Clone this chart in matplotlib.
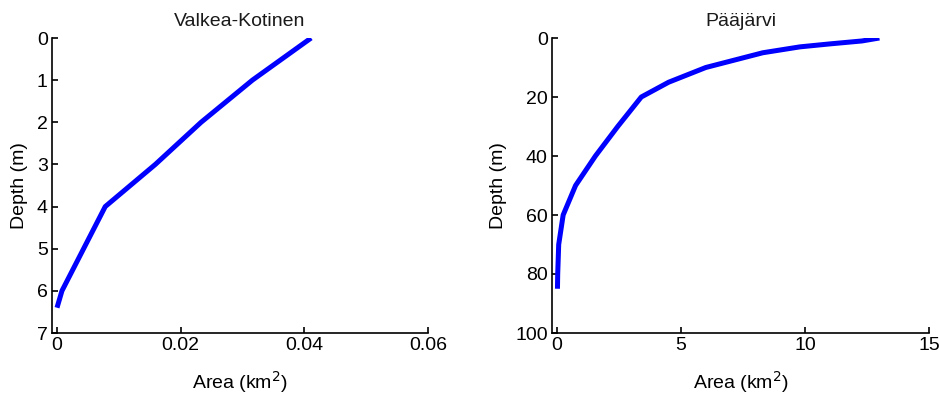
import matplotlib
matplotlib.use("Agg")
import matplotlib.pyplot as plt

plt.rcParams['font.family'] = ['Liberation Sans', 'DejaVu Sans']

vk_depth = [0, 1, 2, 3, 4, 5, 6, 6.4]
vk_area = [0.0411, 0.0316, 0.0233, 0.0159, 0.0078, 0.0043, 0.0008, 0.0]

pj_depth = [0, 1, 2, 3, 5, 10, 15, 20, 30, 40, 50, 60, 70, 80, 85]
pj_area = [13.0, 12.3, 11.0, 9.8, 8.3, 6.0, 4.5, 3.4, 2.45, 1.55, 0.75, 0.25, 0.07, 0.03, 0.02]

vk_xticks = [0, 0.02, 0.04, 0.06]
vk_xticklabels = ['0', '0.02', '0.04', '0.06']
vk_yticks = [0, 1, 2, 3, 4, 5, 6, 7]
pj_xticks = [0, 5, 10, 15]
pj_yticks = [0, 20, 40, 60, 80, 100]

fig = plt.figure(figsize=(9.39, 3.97), dpi=100)
ax1 = fig.add_axes([52/939, 64/397, 376/939, 295/397])
ax2 = fig.add_axes([552/939, 64/397, 377/939, 295/397])

def style(ax):
    for s in ['top', 'right']:
        ax.spines[s].set_visible(False)
    for s in ['left', 'bottom']:
        ax.spines[s].set_linewidth(1.2)
    ax.tick_params(direction='in', length=4, width=1.2, labelsize=14, pad=3)

ax1.plot(vk_area, vk_depth, color='#0000ff', lw=3.6, solid_capstyle='butt')
ax1.set_xlim(-0.00081, 0.06)
ax1.set_ylim(7, 0)
ax1.set_xticks(vk_xticks)
ax1.set_xticklabels(vk_xticklabels)
ax1.set_yticks(vk_yticks)
ax1.set_title('Valkea-Kotinen', fontsize=14, pad=9, color='#1a1a1a')
ax1.set_xlabel('Area (km$^2$)', fontsize=14, labelpad=11)
ax1.set_ylabel('Depth (m)', fontsize=14, labelpad=6)
style(ax1)

ax2.plot(pj_area, pj_depth, color='#0000ff', lw=3.6, solid_capstyle='butt')
ax2.set_xlim(-0.2, 15)
ax2.set_ylim(100, 0)
ax2.set_xticks(pj_xticks)
ax2.set_yticks(pj_yticks)
ax2.set_title('Pääjärvi', fontsize=14, pad=9, color='#1a1a1a')
ax2.set_xlabel('Area (km$^2$)', fontsize=14, labelpad=11)
ax2.set_ylabel('Depth (m)', fontsize=14, labelpad=6)
style(ax2)

fig.savefig('out.png', dpi=100)
